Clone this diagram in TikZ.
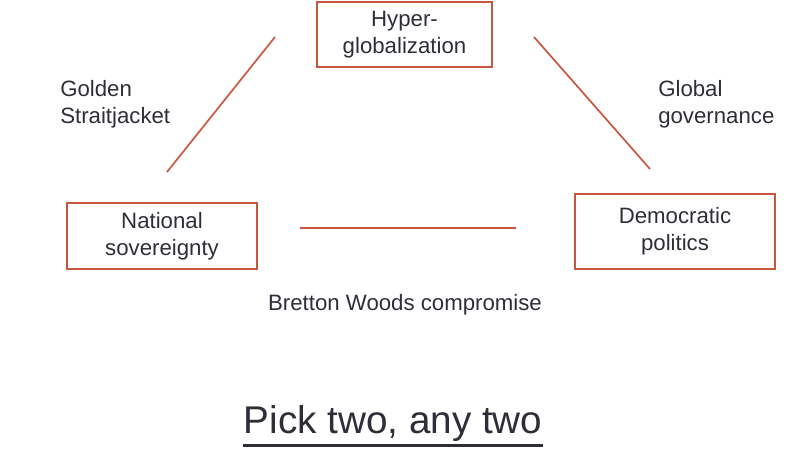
\documentclass[tikz,border=0pt]{standalone}
\usepackage{fontspec}
\setmainfont{Liberation Sans}
\usepackage{xcolor}
\usetikzlibrary{positioning}
\definecolor{rouge}{HTML}{C8553D}
\definecolor{encre}{HTML}{2E2E38}

\begin{document}
\begin{tikzpicture}[
  x=0.025cm, y=-0.025cm,
  boite/.style  = {draw=rouge, line width=0.9pt, align=center, inner sep=0pt,
                   text=encre, font=\fontsize{15.8}{19.1}\selectfont},
  trait/.style  = {draw=rouge, line width=1.2pt},
  etiq/.style   = {align=left, text=encre, inner sep=0pt,
                   font=\fontsize{15.8}{19.1}\selectfont}
]
\useasboundingbox (0,0) rectangle (800,469);
\node[boite, minimum width=4.375cm, minimum height=1.625cm] (hyper) at (404.5,34.5) {Hyper-\\globalization};
\node[boite, minimum width=4.75cm,  minimum height=1.65cm]  (nat)   at (162,236)    {National\\sovereignty};
\node[boite, minimum width=5cm,     minimum height=1.875cm] (demo)  at (675,231.5)  {Democratic\\politics};
\coordinate (g1) at (167,172);  \coordinate (g2) at (275,37);
\coordinate (d1) at (534,37);   \coordinate (d2) at (650,169);
\coordinate (b1) at (300,228);  \coordinate (b2) at (516,228);
\draw[trait] (g1) -- (g2);
\draw[trait] (d1) -- (d2);
\draw[trait] (b1) -- (b2);
\node[etiq, anchor=west] (golden) at (60,104)  {Golden\\Straitjacket};
\node[etiq, anchor=west] (global) at (658,104) {Global\\governance};
\node[etiq] (bretton) at (405,305) {Bretton Woods compromise};
\node[text=encre, inner sep=0pt, font=\fontsize{27.5}{33}\selectfont] (pick) at (393,423) {Pick two, any two};
\draw[encre, line width=1.6pt] ([yshift=-3pt]pick.south west) -- ([yshift=-3pt]pick.south east);
\end{tikzpicture}
\end{document}
